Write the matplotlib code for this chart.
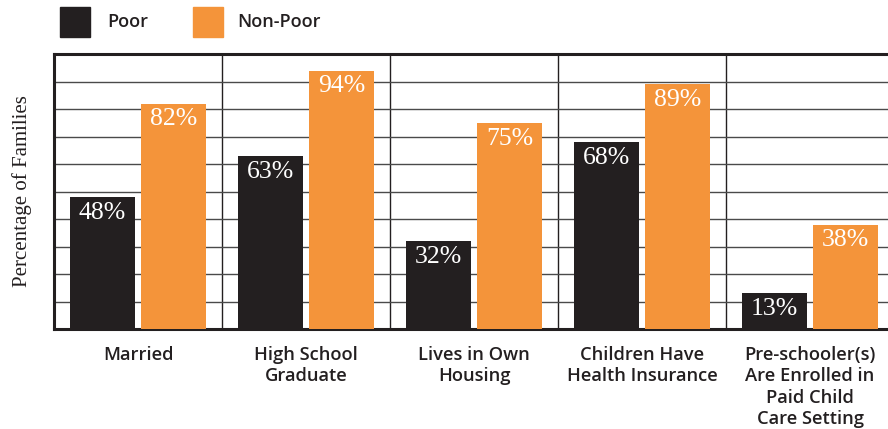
import matplotlib
matplotlib.use("Agg")
import matplotlib.pyplot as plt
import numpy as np
from matplotlib.patches import Rectangle

categories = ["Married", "High School\nGraduate", "Lives in Own\nHousing",
              "Children Have\nHealth Insurance",
              "Pre-schooler(s)\nAre Enrolled in\nPaid Child\nCare Setting"]
poor = [48, 63, 32, 68, 13]
non_poor = [82, 94, 75, 89, 38]
series_names = ["Poor", "Non-Poor"]

C_POOR = "#231f20"
C_NON = "#f4943a"
TEXT = "#231f20"

W, H = 888, 429
fig = plt.figure(figsize=(W / 100, H / 100), dpi=100)
left, right, top, bottom = 54, 894, 54, 329
ax = fig.add_axes([left / W, 1 - bottom / H, (right - left) / W, (bottom - top) / H])

x = np.arange(len(categories))
bw = 0.387
off = 0.211
b1 = ax.bar(x - off, poor, bw, color=C_POOR, zorder=3)
b2 = ax.bar(x + off, non_poor, bw, color=C_NON, zorder=3)

ax.set_xlim(-0.5, len(categories) - 0.5)
ax.set_ylim(0, 100)

# grid
ax.set_yticks(np.arange(0, 101, 10))
ax.set_yticklabels([])
ax.tick_params(axis="y", length=0)
ax.yaxis.grid(True, color="#4a4a4a", linewidth=1.0, zorder=1)
ax.set_xticks(np.arange(0.5, len(categories) - 0.5, 1), minor=True)
ax.xaxis.grid(True, which="minor", color="#231f20", linewidth=1.0, zorder=1)
ax.tick_params(axis="x", which="both", length=0)
ax.set_xticks(x)
ax.set_xticklabels(categories, fontsize=13.2, family=["Open Sans", "DejaVu Sans"],
                   fontweight="semibold", color=TEXT, linespacing=1.25, va="top")
ax.tick_params(axis="x", pad=12)
ax.set_axisbelow(True)

for s in ["left", "top", "bottom"]:
    ax.spines[s].set_linewidth(2.2)
    ax.spines[s].set_color(C_POOR)
ax.spines["right"].set_visible(False)

for bars, vals in [(b1, poor), (b2, non_poor)]:
    for r, v in zip(bars, vals):
        ax.annotate(f"{v}%", (r.get_x() + r.get_width() / 2, v), xytext=(0, -3.5),
                    textcoords="offset points", ha="center", va="top",
                    color="white", fontsize=18.5, family="Liberation Serif", zorder=4)

ax.set_ylabel("Percentage of Families", fontsize=15, family="Liberation Serif",
              color=TEXT, labelpad=12)

# legend
for (lx, tx, c, name) in [(60, 107, C_POOR, series_names[0]), (193, 237, C_NON, series_names[1])]:
    fig.patches.append(Rectangle((lx / W, 1 - 37 / H), 30 / W, 30 / H,
                                 transform=fig.transFigure, color=c))
    fig.text(tx / W, 1 - 22 / H, name, fontsize=13, family=["Open Sans", "DejaVu Sans"],
             fontweight="semibold", color=TEXT, va="center", ha="left")

fig.savefig("out.png", dpi=100)
